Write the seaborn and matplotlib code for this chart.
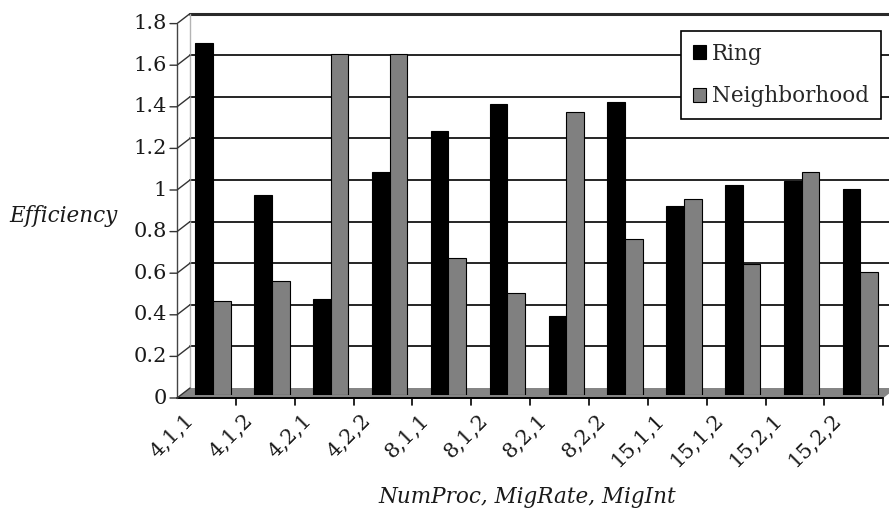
import numpy as np
import pandas as pd
import matplotlib
matplotlib.use("Agg")
import matplotlib.pyplot as plt
from matplotlib.lines import Line2D
from matplotlib.patches import Polygon, Patch
from matplotlib.transforms import IdentityTransform
import seaborn as sns

# ---- data -------------------------------------------------------------
configs = ["4,1,1", "4,1,2", "4,2,1", "4,2,2", "8,1,1", "8,1,2",
           "8,2,1", "8,2,2", "15,1,1", "15,1,2", "15,2,1", "15,2,2"]
ring = [1.69, 0.96, 0.46, 1.07, 1.27, 1.40, 0.38, 1.41, 0.91, 1.01, 1.03, 0.99]
neighborhood = [0.45, 0.55, 1.64, 1.64, 0.66, 0.49, 1.36, 0.75, 0.94, 0.63, 1.07, 0.59]
series_names = ["Ring", "Neighborhood"]
yticks = [0, 0.2, 0.4, 0.6, 0.8, 1.0, 1.2, 1.4, 1.6, 1.8]
ytick_labels = ["0", "0.2", "0.4", "0.6", "0.8", "1", "1.2", "1.4", "1.6", "1.8"]

df = pd.DataFrame({
    "config": configs * 2,
    "scheme": [series_names[0]] * len(configs) + [series_names[1]] * len(configs),
    "efficiency": ring + neighborhood,
})

# ---- style ------------------------------------------------------------
sns.set_theme(style="white")
plt.rcParams["font.family"] = ["DejaVu Serif"]
colors = {"Ring": "#000000", "Neighborhood": "#808080"}

W, H, DPI = 889, 516, 100
fig = plt.figure(figsize=(W / DPI, H / DPI), dpi=DPI)
fig.patch.set_facecolor("white")

# plotting area (pixel geometry of the bar plane)
x_left, x_right = 183.6, 889.9
base_y, top_y = 395.0, 395.0 - 1.8 * 208.0
ax = fig.add_axes([x_left / W, 1 - base_y / H,
                   (x_right - x_left) / W, (base_y - top_y) / H])

sns.barplot(data=df, x="config", y="efficiency", hue="scheme",
            hue_order=series_names, palette=colors, width=0.6,
            edgecolor="black", linewidth=0.8, saturation=1,
            ax=ax, zorder=2)

ax.set_xlim(-0.5, len(configs) - 0.5)
ax.set_ylim(0, 1.8)
ax.patch.set_visible(False)
for s in ax.spines.values():
    s.set_visible(False)
ax.set_xticks([])
ax.set_yticks([])
if ax.get_legend() is not None:
    ax.get_legend().remove()

# pseudo-3D depth offsets (pixels; dy positive = downward)
FRONT = (-6.6, 3.0)
BACK = (6.4, -7.0)


def disp(x, y, off, extra=(0.0, 0.0)):
    X, Y = ax.transData.transform((x, y))
    return X + off[0] + extra[0], Y - off[1] - extra[1]


def seg(points, **kw):
    xs, ys = zip(*points)
    ln = Line2D(xs, ys, transform=IdentityTransform(), clip_on=False, **kw)
    ax.add_artist(ln)
    return ln


xmin, xmax = -0.5, len(configs) - 0.5

# back wall grid lines and frame
for v in yticks[1:-1]:
    seg([disp(xmin, v, BACK), disp(xmax, v, BACK)], color="black", lw=1.2, zorder=0.3)
seg([disp(xmin, 1.8, BACK), disp(xmax, 1.8, BACK)], color="#2a2a2a", lw=2.2, zorder=0.3)
seg([disp(xmin, 0, BACK), disp(xmin, 1.8, BACK)], color="#b4b4b4", lw=1.0, zorder=0.3)

# floor
floor = Polygon([disp(xmin, 0, FRONT), disp(xmax, 0, FRONT),
                 disp(xmax, 0, BACK), disp(xmin, 0, BACK)],
                closed=True, transform=IdentityTransform(), clip_on=False,
                facecolor="#858585", edgecolor="none", zorder=0.5)
ax.add_patch(floor)

# front axes
seg([disp(xmin, 0, FRONT), disp(xmax, 0, FRONT)], color="black", lw=1.4, zorder=3)
seg([disp(xmin, 0, FRONT), disp(xmin, 1.8, FRONT)], color="#444444", lw=1.0, zorder=3)
for k in range(1, len(configs) + 1):
    b = xmin + k
    seg([disp(b, 0, FRONT), disp(b, 0, FRONT, (0, 7))], color="black", lw=1.2, zorder=3)

# y ticks with connectors to the back wall, and their labels
for v, lab in zip(yticks, ytick_labels):
    seg([disp(xmin, v, FRONT, (-7, 0)), disp(xmin, v, FRONT), disp(xmin, v, BACK)],
        color="#333333", lw=1.0, zorder=3)
    X, Y = disp(xmin, v, FRONT, (-10, 0))
    ax.text(X, Y, lab, transform=IdentityTransform(), ha="right", va="center",
            fontsize=15, color="#1a1a1a", clip_on=False)

# category labels
for i, lab in enumerate(configs):
    X, Y = disp(i, 0, (-22, 22))
    ax.text(X, Y, lab, transform=IdentityTransform(), rotation=45,
            rotation_mode="anchor", ha="right", va="center",
            fontsize=15, color="#1a1a1a", clip_on=False)

# axis titles
ax.set_ylabel("Efficiency", rotation=0, fontsize=15.5, style="italic",
              color="#1a1a1a", ha="center", va="center")
ax.yaxis.set_label_coords((63 - x_left) / (x_right - x_left),
                          (base_y - 216) / (base_y - top_y))
ax.set_xlabel("NumProc, MigRate, MigInt", fontsize=15.5, style="italic",
              color="#1a1a1a", va="center")
ax.xaxis.set_label_coords((527 - x_left) / (x_right - x_left),
                          -(497 - base_y) / (base_y - top_y))

# legend
handles = [Patch(facecolor=colors[n], edgecolor="black", linewidth=0.8) for n in series_names]
leg = ax.legend(handles, series_names, loc="upper left",
                bbox_to_anchor=(681 / W, 1 - 31 / H), bbox_transform=fig.transFigure,
                fontsize=15.5, frameon=True, fancybox=False, framealpha=1,
                edgecolor="black", handlelength=0.6, handleheight=0.6,
                handletextpad=0.3, labelspacing=0.95, borderpad=0.55,
                borderaxespad=0)
leg.get_frame().set_linewidth(1.2)
leg.set_zorder(5)

fig.savefig("out.png", dpi=DPI, facecolor="white")
